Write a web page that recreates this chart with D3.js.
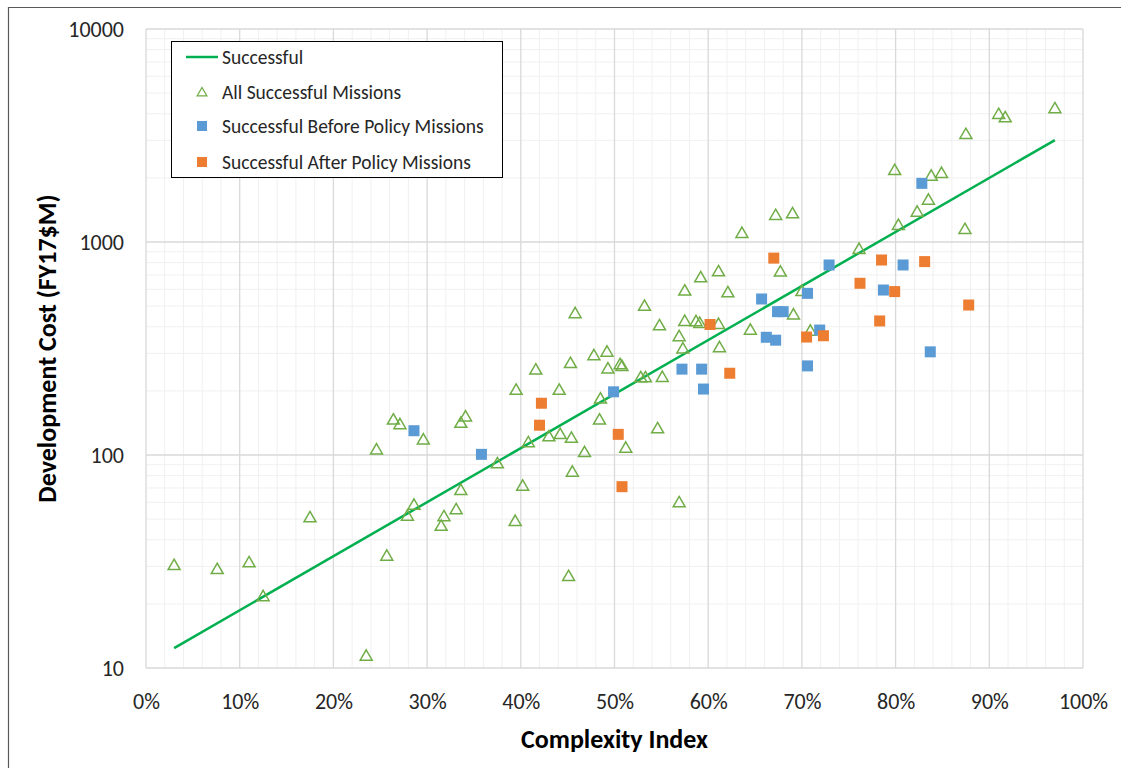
<!DOCTYPE html>
<html>
<head>
<meta charset="utf-8">
<script src="https://cdn.jsdelivr.net/npm/d3@7"></script>
<style>
  body { margin: 0; background: #fff; }
  svg { display: block; font-family: Carlito, Lato, "Open Sans", sans-serif; }
</style>
</head>
<body>
<svg width="1121" height="768"></svg>
<script>
// complexity index (%) and development cost (FY17 $M)
const allX = [3.0, 7.6, 11.0, 12.5, 17.5, 23.5, 24.6, 25.7, 26.4, 27.1, 29.6, 28.6, 27.9, 31.8, 31.5, 33.1, 33.6, 33.6, 34.1, 37.5,
  40.2, 39.4, 40.8, 39.5, 41.6, 43.0, 44.2, 45.4, 44.1, 45.3, 45.8, 46.8, 45.5, 45.1, 47.8, 49.2, 49.3, 48.5, 48.4, 50.6,
  50.8, 51.2, 52.8, 53.3, 55.1, 54.6, 53.2, 54.8, 56.9, 56.9, 57.3, 57.5, 57.5, 58.7, 59.1, 61.1, 61.2, 62.1, 59.2, 61.1,
  64.5, 63.6, 67.2, 69.0, 67.7, 69.1, 70.0, 70.9, 76.1, 80.3, 82.3, 83.5, 79.9, 83.8, 84.9, 87.4, 87.5, 91.0, 91.7, 97.0];
const allY = [30.1, 28.8, 31.0, 21.5, 50.4, 11.3, 105, 33.3, 145, 138, 117, 57.8, 51.3, 51.0, 46, 55, 67.8, 140, 150, 90.4,
  71, 48.5, 113.5, 200, 249, 121, 124, 119, 200, 267, 458, 102, 82.6, 26.7, 291, 302, 252, 182, 145, 264,
  259, 107, 229, 229, 230, 132, 496, 402, 59.3, 357, 313, 585, 421, 420, 412, 408, 317, 574, 675, 720,
  383, 1091, 1324, 1349, 718, 452, 582, 379, 917, 1189, 1373, 1562, 2153, 2026, 2086, 1138, 3178, 3945, 3807, 4198];

const beforeX = [28.6, 35.8, 49.9, 57.2, 59.3, 59.5, 65.7, 66.2, 67.2, 67.4, 68.0, 70.6, 70.6, 71.9, 72.9, 78.7, 80.8, 82.8, 83.7];
const beforeY = [130, 100.7, 198, 253, 253, 204, 540, 357, 346, 471, 471, 574, 262, 386, 780, 595, 780, 1885, 305];

const afterX = [42.2, 42.0, 50.4, 50.8, 60.2, 62.3, 67.0, 70.5, 72.3, 76.2, 78.5, 78.3, 79.9, 83.1, 87.8];
const afterY = [175, 138, 125, 71, 410, 242, 840, 358, 363, 640, 823, 426, 585, 809, 506];

// exponential trendline end points
const trendX = [3, 97];
const trendY = [12.4, 3010];

const xTicks = [0, 10, 20, 30, 40, 50, 60, 70, 80, 90, 100];
const yTicks = [10, 100, 1000, 10000];
const legendLabels = ["Successful", "All Successful Missions", "Successful Before Policy Missions", "Successful After Policy Missions"];

const svg = d3.select("svg");
const margin = { top: 29, left: 146, right: 38, bottom: 100 };
const width = 1121, height = 768;
const innerWidth = width - margin.left - margin.right;
const innerHeight = height - margin.top - margin.bottom;

const green = "#70ad47", blue = "#5b9bd5", orange = "#ed7d31", lineGreen = "#00b050";

// outer chart frame
svg.append("line").attr("x1", 8.5).attr("x2", 8.5).attr("y1", 7).attr("y2", height).attr("stroke", "#595959").attr("stroke-width", 1.2);
svg.append("line").attr("x1", 8).attr("x2", width).attr("y1", 7.5).attr("y2", 7.5).attr("stroke", "#595959").attr("stroke-width", 1.2);

const g = svg.append("g").attr("transform", `translate(${margin.left},${margin.top})`);

const x = d3.scaleLinear().domain([0, 100]).range([0, innerWidth]);
const y = d3.scaleLog().domain([10, 10000]).range([innerHeight, 0]);

// minor grid
const xMinor = d3.range(0, 101, 2).filter(v => v % 10 != 0);
const yMinor = [];
[10, 100, 1000].forEach(d => { for (let k = 2; k < 10; k++) yMinor.push(d * k); });

g.append("g").selectAll("line").data(xMinor).enter().append("line")
  .attr("x1", d => x(d)).attr("x2", d => x(d)).attr("y1", 0).attr("y2", innerHeight)
  .attr("stroke", "#f0f0f0").attr("stroke-width", 1);
g.append("g").selectAll("line").data(yMinor).enter().append("line")
  .attr("y1", d => y(d)).attr("y2", d => y(d)).attr("x1", 0).attr("x2", innerWidth)
  .attr("stroke", "#f0f0f0").attr("stroke-width", 1);

// major grid
g.append("g").selectAll("line").data(xTicks).enter().append("line")
  .attr("x1", d => x(d)).attr("x2", d => x(d)).attr("y1", 0).attr("y2", innerHeight)
  .attr("stroke", "#d9d9d9").attr("stroke-width", 1.3);
g.append("g").selectAll("line").data(yTicks).enter().append("line")
  .attr("y1", d => y(d)).attr("y2", d => y(d)).attr("x1", 0).attr("x2", innerWidth)
  .attr("stroke", "#d9d9d9").attr("stroke-width", 1.3);

// axes (labels only, Excel style)
const xAxis = g.append("g").attr("transform", `translate(0,${innerHeight})`)
  .call(d3.axisBottom(x).tickValues(xTicks).tickFormat(d => d + "%").tickSize(0).tickPadding(22));
const yAxis = g.append("g")
  .call(d3.axisLeft(y).tickValues(yTicks).tickFormat(d3.format("d")).tickSize(0).tickPadding(22));
[xAxis, yAxis].forEach(a => {
  a.select(".domain").remove();
  a.selectAll("text").attr("font-family", "Carlito, Lato, sans-serif").attr("font-size", 22).attr("fill", "#262626");
});
xAxis.selectAll("text").attr("dy", "0.85em");

// axis titles
svg.append("text").attr("x", margin.left + innerWidth / 2).attr("y", 748)
  .attr("text-anchor", "middle").attr("font-weight", "bold").attr("font-size", 26).attr("fill", "#000")
  .text("Complexity Index");
svg.append("text").attr("transform", `translate(56,${margin.top + innerHeight / 2}) rotate(-90)`)
  .attr("text-anchor", "middle").attr("font-weight", "bold").attr("font-size", 26).attr("fill", "#000")
  .text("Development Cost (FY17$M)");

// trendline
const line = d3.line().x(d => x(d[0])).y(d => y(d[1]));
g.append("path").datum(d3.zip(trendX, trendY)).attr("d", line)
  .attr("fill", "none").attr("stroke", lineGreen).attr("stroke-width", 2.5);

const tri = d3.symbol().type(d3.symbolTriangle).size(62);

g.append("g").selectAll("path").data(d3.zip(allX, allY)).enter().append("path")
  .attr("d", tri)
  .attr("transform", d => `translate(${x(d[0])},${y(d[1])})`)
  .attr("fill", "none").attr("stroke", green).attr("stroke-width", 1.5);

const sq = 11;
g.append("g").selectAll("rect").data(d3.zip(beforeX, beforeY)).enter().append("rect")
  .attr("x", d => x(d[0]) - sq / 2).attr("y", d => y(d[1]) - sq / 2)
  .attr("width", sq).attr("height", sq).attr("fill", blue);

g.append("g").selectAll("rect").data(d3.zip(afterX, afterY)).enter().append("rect")
  .attr("x", d => x(d[0]) - sq / 2).attr("y", d => y(d[1]) - sq / 2)
  .attr("width", sq).attr("height", sq).attr("fill", orange);

// legend
const legend = svg.append("g").attr("transform", "translate(171,41)");
legend.append("rect").attr("x", 0.5).attr("y", 0.5).attr("width", 331).attr("height", 136)
  .attr("fill", "#fff").attr("stroke", "#000").attr("stroke-width", 1);
const rowY = [16, 51, 85, 121];
legend.selectAll("text").data(legendLabels).enter().append("text")
  .attr("x", 51).attr("y", (d, i) => rowY[i]).attr("dy", "0.35em")
  .attr("font-size", 19.5).attr("fill", "#262626").text(d => d);
legend.append("line").attr("x1", 15).attr("x2", 47).attr("y1", rowY[0]).attr("y2", rowY[0])
  .attr("stroke", lineGreen).attr("stroke-width", 2.5);
legend.append("path").attr("d", d3.symbol().type(d3.symbolTriangle).size(40))
  .attr("transform", `translate(31,${rowY[1] + 1})`).attr("fill", "none").attr("stroke", green).attr("stroke-width", 1.3);
legend.append("rect").attr("x", 26).attr("y", rowY[2] - 5).attr("width", 10).attr("height", 10).attr("fill", blue);
legend.append("rect").attr("x", 26).attr("y", rowY[3] - 5).attr("width", 10).attr("height", 10).attr("fill", orange);
</script>
</body>
</html>
